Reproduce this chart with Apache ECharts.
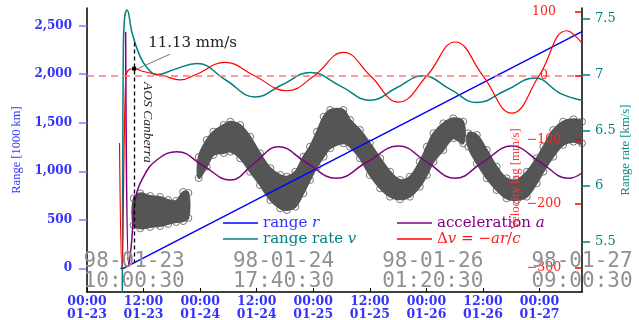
<!DOCTYPE html>
<html>
<head>
<meta charset="utf-8">
<script src="https://cdn.jsdelivr.net/npm/echarts@6/dist/echarts.min.js"></script>
<style>
html, body { margin: 0; padding: 0; background: #fff; }
#main { width: 639px; height: 320px; }
</style>
</head>
<body>
<div id="main"></div>
<script>
// x values: hours since 98-01-23 00:00
var xTicks = [0, 12, 24, 36, 48, 60, 72, 84, 96];
var passTicks = [10.008, 41.675, 73.342, 105.008];
var passLabels = ['98-01-23\n10:00:30', '98-01-24\n17:40:30', '98-01-26\n01:20:30', '98-01-27\n09:00:30'];
var rangeTicks = [0, 500, 1000, 1500, 2000, 2500];
var lagTicks = [-300, -200, -100, 0, 100];
var rateTicks = [5.5, 6, 6.5, 7, 7.5];
var aosTime = 10.008;

// range r [1000 km]
var rangeTime = [7.1, 7.7, 105.0];
var rangeValue = [0, 0, 2438];

// range rate v [km/s]
var rateTime = [7.45, 7.7, 7.95, 8.48, 9.6, 11.3, 12.8, 14.8, 18.7, 23.3, 29.5, 35.7, 41.4, 47.4, 53.7, 60.1, 65.6, 71.3, 77.0, 82.7, 88.9, 95.0, 100.5, 105.0];
var rateValue = [4.6, 7.2, 7.5, 7.58, 7.37, 7.16, 7.06, 7.0, 7.05, 7.10, 6.95, 6.80, 6.91, 7.02, 6.90, 6.77, 6.88, 6.99, 6.87, 6.75, 6.86, 6.97, 6.83, 6.77];

// acceleration a (drawn against the range scale)
var accelTime = [8.2, 8.86, 9.5, 10.24, 12.0, 14.8, 19.1, 24.7, 30.4, 35.5, 40.6, 46.5, 52.9, 59.4, 66.1, 72.1, 78.1, 84.0, 90.1, 96.1, 102.2, 105.0];
var accelValue = [2438, 19, 292, 704, 944, 1116, 1202, 1054, 910, 1085, 1253, 1090, 927, 1095, 1260, 1095, 927, 1095, 1260, 1095, 927, 982];

// velocity lag dv [mm/s]
var lagTime = [6.9, 7.4, 8.2, 8.8, 9.92, 12.0, 16.2, 19.8, 23.0, 29.3, 35.5, 42.4, 48.2, 54.4, 60.1, 66.1, 72.1, 78.1, 84.0, 90.1, 95.9, 101.8, 105.0];
var lagValue = [-105, -303, -5, 9, 11.13, 6.7, 0, -6.3, 1.6, 20.8, 0, -23.4, 0, 36.4, 0, -41, 0, 52.7, 0, -58.3, 0, 70.3, 51];

// residual band (range scale): sample times, lower and upper edge
var bandTime = [9.9, 11.3, 13.4, 15.5, 17.2, 18.9, 20.4, 21.5,
  23.7, 25.4, 26.8, 29.0, 30.4, 32.5, 34.6, 36.7, 38.9, 41.0, 42.4, 44.2, 45.9, 47.3, 48.8, 50.2, 51.6, 54.4, 55.8, 57.9, 60.0, 62.2, 64.3, 66.4, 68.5, 70.6, 72.1, 73.5, 75.6, 77.7, 79.8,
  80.9, 82.7, 84.8, 86.9, 89.0, 91.2, 93.3, 95.4, 96.8, 98.9, 101.0, 103.2, 105.0];
var bandLow = [446, 412, 426, 436, 457, 477, 487, 518,
  931, 1047, 1168, 1188, 1202, 1134, 995, 858, 704, 618, 601, 635, 773, 910, 1047, 1150, 1237, 1288, 1253, 1134, 961, 824, 738, 711, 738, 841, 961, 1099, 1219, 1340, 1288,
  1253, 1082, 927, 807, 721, 704, 738, 876, 995, 1150, 1271, 1305, 1288];
var bandHigh = [721, 773, 745, 735, 704, 694, 786, 776,
  1147, 1322, 1408, 1477, 1511, 1477, 1356, 1185, 1031, 961, 944, 995, 1150, 1253, 1408, 1562, 1631, 1631, 1528, 1425, 1288, 1134, 995, 910, 944, 1099, 1253, 1391, 1494, 1546, 1511,
  1391, 1374, 1219, 1047, 927, 910, 995, 1134, 1253, 1425, 1511, 1535, 1511];
var bandStart = [0, 8, 39];

function pairs(t, v) {
  return t.map(function (x, i) { return [x, v[i]]; });
}

function fmtTime(h) {
  var hh = h % 24;
  var day = 23 + Math.floor(h / 24);
  return (hh < 10 ? '0' + hh : hh) + ':00\n01-' + day;
}

var legendNames = {
  'range r': 'range {it|r}',
  'range rate v': 'range rate {it|v}',
  'acceleration a': 'acceleration {it|a}',
  'Δv = −ar/c': 'Δ{it|v} = −{it|ar}/{it|c}'
};
var legendText = {
  fontFamily: 'DejaVu Serif', fontSize: 15, lineHeight: 16,
  rich: { it: { fontFamily: 'DejaVu Serif', fontSize: 15, lineHeight: 16, fontStyle: 'italic' } }
};

var edgePoints = pairs(bandTime, bandHigh).concat(pairs(bandTime, bandLow));

var myChart = echarts.init(document.getElementById('main'));

myChart.setOption({
  animation: false,
  grid: { left: 87, right: 57, top: 8, bottom: 28, outerBoundsMode: 'none' },
  legend: [{
    left: 218, top: 210, orient: 'vertical', itemGap: 0, itemWidth: 35, itemHeight: 1.5, icon: 'rect',
    data: [
      { name: 'range r', textStyle: { color: '#3333ff' } },
      { name: 'range rate v', textStyle: { color: '#008080' } }
    ],
    textStyle: legendText,
    formatter: function (n) { return legendNames[n]; }
  }, {
    left: 392, top: 210, orient: 'vertical', itemGap: 0, itemWidth: 35, itemHeight: 1.5, icon: 'rect',
    data: [
      { name: 'acceleration a', textStyle: { color: '#800080' } },
      { name: 'Δv = −ar/c', textStyle: { color: '#ff1a1a' } }
    ],
    textStyle: legendText,
    formatter: function (n) { return legendNames[n]; }
  }],
  xAxis: [{
    type: 'value', min: 0, max: 105.008, position: 'bottom',
    axisLine: { onZero: false, lineStyle: { color: '#000', width: 1.5 } },
    axisTick: { show: true, inside: true, length: 4, customValues: xTicks, lineStyle: { color: '#000' } },
    axisLabel: {
      customValues: xTicks, margin: 3, color: '#3333ff', fontFamily: 'DejaVu Serif',
      fontWeight: 'bold', fontSize: 12.5, lineHeight: 13, formatter: fmtTime
    },
    splitLine: { show: false }
  }, {
    type: 'value', min: 0, max: 105.008, position: 'bottom', z: 10,
    axisLine: { show: false, onZero: false },
    axisTick: { show: false },
    splitLine: { show: false },
    axisLabel: {
      customValues: passTicks, inside: true, margin: 0, color: '#909090',
      fontFamily: 'DejaVu Sans Mono', fontSize: 21, lineHeight: 20,
      formatter: function (v) {
        var k = 0;
        passTicks.forEach(function (p, i) { if (Math.abs(p - v) < Math.abs(passTicks[k] - v)) k = i; });
        return passLabels[k];
      }
    }
  }],
  yAxis: [{
    type: 'value', position: 'left', min: -244, max: 2682,
    name: 'Range [1000 km]', nameLocation: 'middle', nameGap: 64, nameRotate: 90, nameMoveOverlap: false,
    nameTextStyle: { color: '#3333ff', fontFamily: 'Liberation Serif', fontSize: 12.5 },
    axisLine: { show: true, onZero: false, lineStyle: { color: '#000', width: 1.5 } },
    axisTick: { show: true, length: 8, customValues: rangeTicks, lineStyle: { color: '#7b7bff', width: 1.5 } },
    axisLabel: {
      customValues: rangeTicks, margin: 15, color: '#3333ff', fontFamily: 'DejaVu Serif',
      fontWeight: 'bold', fontSize: 12,
      formatter: function (v) { return v.toLocaleString('en-US'); }
    },
    splitLine: { show: false }
  }, {
    type: 'value', position: 'right', min: -337.5, max: 105.8, z: 10,
    name: 'Velocity lag [mm/s]', nameLocation: 'middle', nameGap: -73, nameRotate: 90, nameMoveOverlap: false,
    nameTextStyle: { color: '#ff3333', fontFamily: 'Liberation Serif', fontSize: 12.8, padding: [0, 58, 0, 0] },
    axisLine: { show: false, onZero: false },
    axisTick: { show: true, inside: true, length: 7, customValues: lagTicks, lineStyle: { color: '#ff0000', width: 1.5 } },
    axisLabel: {
      customValues: lagTicks, inside: true, margin: 38, align: 'center', color: '#ff2020',
      fontFamily: 'DejaVu Serif', fontSize: 12.5,
      formatter: function (v) { return v < 0 ? '\u2212' + (-v) : String(v); }
    },
    splitLine: { show: false }
  }, {
    type: 'value', position: 'right', min: 5.048, max: 7.599,
    name: 'Range rate [km/s]', nameLocation: 'middle', nameGap: 37, nameRotate: 90, nameMoveOverlap: false,
    nameTextStyle: { color: '#008b8b', fontFamily: 'Liberation Serif', fontSize: 12.7 },
    axisLine: { show: true, onZero: false, lineStyle: { color: '#000', width: 1.5 } },
    axisTick: { show: true, length: 8, customValues: rateTicks, lineStyle: { color: '#008080', width: 1.5 } },
    axisLabel: {
      customValues: rateTicks, margin: 13, color: '#008080', fontFamily: 'DejaVu Serif', fontSize: 13,
      formatter: function (v) { return String(v); }
    },
    splitLine: { show: false }
  }],
  series: [{
    name: 'residual edge', type: 'scatter', xAxisIndex: 0, yAxisIndex: 0, z: 0, silent: true,
    symbol: 'circle', symbolSize: 7,
    itemStyle: { color: 'rgba(0,0,0,0)', borderColor: '#555', borderWidth: 1 },
    data: edgePoints
  }, {
    name: 'residual', type: 'custom', xAxisIndex: 0, yAxisIndex: 0, z: 1, silent: true, clip: true,
    encode: { x: 0, y: 1 },
    data: bandStart.map(function (st, s) { return [bandTime[st], bandLow[st], s]; }),
    renderItem: function (params, api) {
      var s = api.value(2);
      var a = bandStart[s];
      var b = s + 1 < bandStart.length ? bandStart[s + 1] : bandTime.length;
      var pts = [];
      var i;
      for (i = a; i < b; i++) pts.push(api.coord([bandTime[i], bandHigh[i]]));
      for (i = b - 1; i >= a; i--) pts.push(api.coord([bandTime[i], bandLow[i]]));
      return {
        type: 'polygon',
        shape: { points: pts, smooth: 0.35 },
        style: { fill: '#555', stroke: '#555', lineWidth: 2 }
      };
    }
  }, {
    name: 'range r', type: 'line', xAxisIndex: 0, yAxisIndex: 0, symbol: 'none',
    lineStyle: { color: '#0000ff', width: 1.5 }, itemStyle: { color: '#0000ff' },
    data: pairs(rangeTime, rangeValue)
  }, {
    name: 'range rate v', type: 'line', xAxisIndex: 0, yAxisIndex: 2, symbol: 'none', smooth: 0.45,
    lineStyle: { color: '#008080', width: 1.5 }, itemStyle: { color: '#008080' },
    data: pairs(rateTime, rateValue)
  }, {
    name: 'acceleration a', type: 'line', xAxisIndex: 0, yAxisIndex: 0, symbol: 'none', smooth: 0.45,
    lineStyle: { color: '#800080', width: 1.5 }, itemStyle: { color: '#800080' },
    data: pairs(accelTime, accelValue)
  }, {
    name: 'Δv = −ar/c', type: 'line', xAxisIndex: 0, yAxisIndex: 1, symbol: 'none', smooth: 0.45,
    lineStyle: { color: '#ff0000', width: 1.2 }, itemStyle: { color: '#ff0000' },
    data: pairs(lagTime, lagValue),
    markLine: {
      silent: true, animation: false, symbol: ['none', 'none'], label: { show: false },
      data: [
        { yAxis: 0, lineStyle: { color: '#ff7878', type: [7, 5], width: 1.5 } },
        [{ coord: [aosTime, 52], lineStyle: { color: '#000', type: [4, 3], width: 1.3 } }, { coord: [aosTime, -292] }],
        [{ coord: [10.24, 9.4], lineStyle: { color: '#777', type: 'solid', width: 1 } }, { coord: [17.66, 33.9] }]
      ]
    },
    markPoint: {
      silent: true, animation: false,
      data: [
        { coord: [aosTime, 11.13], symbol: 'rect', symbolSize: 4, itemStyle: { color: '#000' }, label: { show: false } },
        {
          coord: [22.4, 51.6], symbol: 'rect', symbolSize: 1, itemStyle: { color: 'rgba(0,0,0,0)' },
          label: { show: true, position: 'inside', formatter: '11.13 mm/s', color: '#222', fontFamily: 'DejaVu Serif', fontSize: 15 }
        },
        {
          coord: [12.9, -72.7], symbol: 'rect', symbolSize: 1, itemStyle: { color: 'rgba(0,0,0,0)' },
          label: { show: true, position: 'inside', rotate: -90, formatter: 'AOS Canberra', color: '#222', fontFamily: 'Liberation Serif', fontStyle: 'italic', fontSize: 13.5 }
        }
      ]
    }
  }]
});
</script>
</body>
</html>
